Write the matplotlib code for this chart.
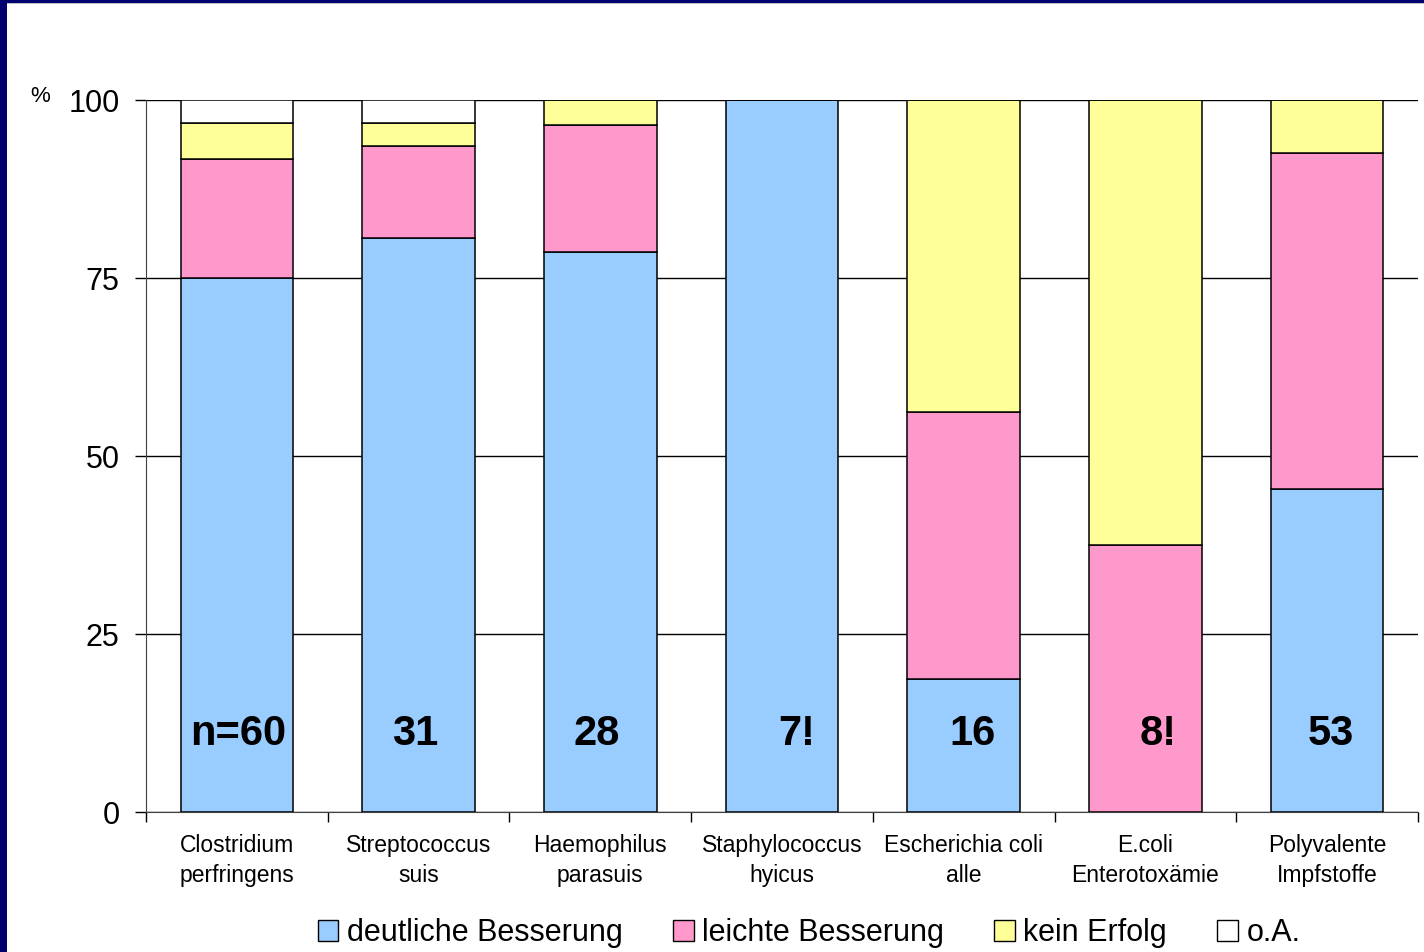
import matplotlib
matplotlib.use("Agg")
import matplotlib.pyplot as plt
from matplotlib.patches import Rectangle, Patch
import numpy as np

plt.rcParams['font.family'] = ['Liberation Sans', 'DejaVu Sans']

categories = ["Clostridium\nperfringens", "Streptococcus\nsuis", "Haemophilus\nparasuis",
              "Staphylococcus\nhyicus", "Escherichia coli\nalle", "E.coli\nEnterotoxämie",
              "Polyvalente\nImpfstoffe"]
deutlich = [75.0, 80.6, 78.6, 100.0, 18.75, 0.0, 45.3]
leicht = [16.7, 12.9, 17.9, 0.0, 37.5, 37.5, 47.2]
kein = [5.0, 3.3, 3.5, 0.0, 43.75, 62.5, 7.5]
oa = [3.3, 3.2, 0.0, 0.0, 0.0, 0.0, 0.0]
n_labels = ["n=60", "31", "28", "7!", "16", "8!", "53"]
series_names = ["deutliche Besserung", "leichte Besserung", "kein Erfolg", "o.A."]
colors = ["#99CCFF", "#FF99CC", "#FFFF99", "#FFFFFF"]
yticks = [0, 25, 50, 75, 100]

# horizontal nudges of the n-labels (style, in category units)
label_nudge = [0.01, -0.02, -0.02, 0.08, 0.05, 0.07, 0.02]

fig = plt.figure(figsize=(14.24, 9.52), dpi=100)
fig.patch.set_facecolor("white")
# navy frame (left and top)
fig.patches.append(Rectangle((0, 0), 7/1424, 1, transform=fig.transFigure, facecolor="#00006e", edgecolor="none", zorder=0))
fig.patches.append(Rectangle((0, 1-3/952), 1, 3/952, transform=fig.transFigure, facecolor="#00006e", edgecolor="none", zorder=0))
fig.patches.append(Rectangle((7/1424, 1-4/952), 1, 1/952, transform=fig.transFigure, facecolor="#c0c0c0", edgecolor="none", zorder=0))

ax = fig.add_axes([146/1424, 1-812/952, (1418-146)/1424, (812-100)/952])
x = np.arange(len(categories))
width = 0.62
bottom = np.zeros(len(categories))
for vals, col, name in zip([deutlich, leicht, kein, oa], colors, series_names):
    v = np.array(vals)
    ax.bar(x, v, width, bottom=bottom, color=col, edgecolor="black", linewidth=1.1, label=name, zorder=3)
    bottom += v

for xi, lab, dx in zip(x, n_labels, label_nudge):
    ax.text(xi + dx, 11.0, lab, ha="center", va="center", fontsize=30, fontweight="bold", zorder=4)

ax.set_xlim(-0.5, len(categories) - 0.5)
ax.set_ylim(0, 100)
ax.set_yticks(yticks)
ax.set_yticklabels([str(t) for t in yticks], fontsize=22)
ax.yaxis.grid(True, color="black", linewidth=1.0, zorder=0)
ax.set_axisbelow(True)
ax.tick_params(axis="y", length=8, width=1, pad=11)

ax.set_xticks(np.arange(-0.5, len(categories), 1.0))
ax.set_xticklabels([])
ax.tick_params(axis="x", which="major", length=7, width=1, direction="out")
ax.set_xticks(x, minor=True)
ax.set_xticklabels(categories, minor=True, fontsize=16.5, linespacing=1.35)
ax.tick_params(axis="x", which="minor", length=0, pad=16)

for s in ["top", "right"]:
    ax.spines[s].set_visible(False)
ax.spines["left"].set_color("#404040")
ax.spines["bottom"].set_color("#404040")

fig.text(40/1424, 1-96/952, "%", fontsize=16, ha="center", va="center")

handles = [Patch(facecolor=c, edgecolor="black", linewidth=1.0) for c in colors]
fig.legend(handles, series_names, loc="center", bbox_to_anchor=(809/1424, 1-933/952), ncol=4,
           frameon=False, fontsize=22, handlelength=0.68, handleheight=0.68, handletextpad=0.27,
           columnspacing=1.65, borderpad=0)

fig.savefig("out.png", dpi=100)
